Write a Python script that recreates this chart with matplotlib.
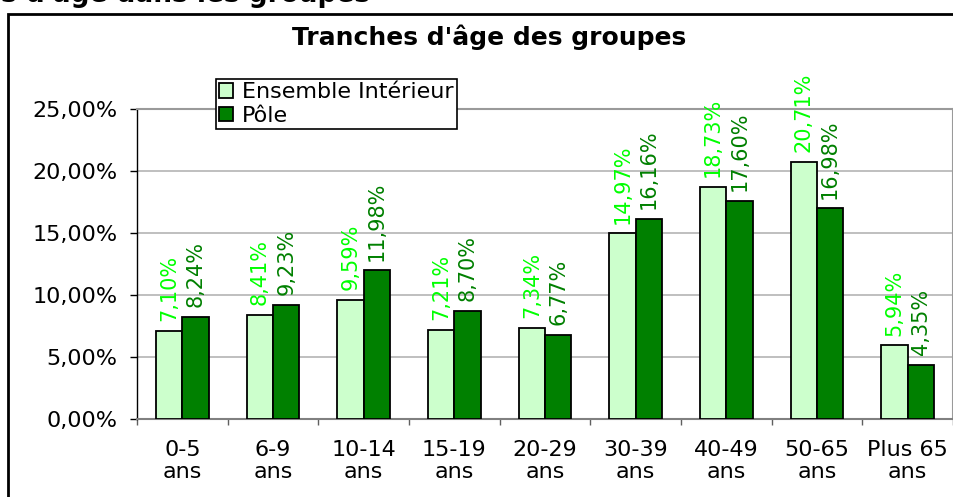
import matplotlib.pyplot as plt
from matplotlib.patches import Rectangle
import numpy as np

categories = ['0-5\nans', '6-9\nans', '10-14\nans', '15-19\nans', '20-29\nans',
              '30-39\nans', '40-49\nans', '50-65\nans', 'Plus 65\nans']
ensemble = [7.10, 8.41, 9.59, 7.21, 7.34, 14.97, 18.73, 20.71, 5.94]
pole = [8.24, 9.23, 11.98, 8.70, 6.77, 16.16, 17.60, 16.98, 4.35]
series_names = ['Ensemble Intérieur', 'Pôle']

light = '#CCFFCC'
dark = '#008000'
light_txt = '#00FF00'

plt.rcParams['font.family'] = 'DejaVu Sans'

fig = plt.figure(figsize=(9.54, 4.97), dpi=100)
W, H = 954, 497

# outer frame of the chart (runs off the right and bottom edges)
fig.patches.append(Rectangle((8 / W, -0.1), 1.2, 1 - 14 / H + 0.1,
                             transform=fig.transFigure, fill=False,
                             edgecolor='black', linewidth=2))

# cut-off heading above the frame
fig.text(370 / W, 1 - 2 / H, "Tranches d'âge dans les groupes", ha='right',
         va='baseline', fontsize=19, fontweight='bold')

ax = fig.add_axes([137 / W, 1 - 419 / H, (953 - 137) / W, (419 - 109) / H])

x = np.arange(len(categories))
bw = 0.29
ax.bar(x - bw / 2, ensemble, bw, color=light, edgecolor='black',
       linewidth=1.3, label=series_names[0], zorder=3)
ax.bar(x + bw / 2, pole, bw, color=dark, edgecolor='black',
       linewidth=1.3, label=series_names[1], zorder=3)

# rotated value labels above each bar
for xi, v in zip(x, ensemble):
    ax.annotate(f'{v:.2f}%'.replace('.', ','), (xi - bw / 2, v),
                xytext=(0, 7), textcoords='offset points', rotation=90,
                ha='center', va='bottom', fontsize=15, color=light_txt,
                annotation_clip=False)
for xi, v in zip(x, pole):
    ax.annotate(f'{v:.2f}%'.replace('.', ','), (xi + bw / 2, v),
                xytext=(0, 7), textcoords='offset points', rotation=90,
                ha='center', va='bottom', fontsize=15, color=dark,
                annotation_clip=False)

ax.set_xlim(-0.5, len(categories) - 0.5)
ax.set_ylim(0, 25)
ax.set_yticks(np.arange(0, 26, 5))
ax.set_yticklabels([f'{t:.2f}%'.replace('.', ',') for t in np.arange(0, 26, 5)])
ax.yaxis.grid(True, color='#B4B4B4', linewidth=1.2, zorder=0)

ax.set_xticks(x)
ax.set_xticklabels(categories, linespacing=1.15)
ax.set_xticks(np.arange(-0.5, len(categories)), minor=True)
ax.tick_params(axis='x', which='major', length=0, pad=15, labelsize=16)
ax.tick_params(axis='x', which='minor', length=4, width=1, color='#606060')
ax.tick_params(axis='y', length=5, width=1, pad=9, labelsize=16)

for side in ['top', 'right']:
    ax.spines[side].set_color('#9A9A9A')
    ax.spines[side].set_linewidth(1.5)
ax.spines['bottom'].set_color('#808080')
ax.spines['bottom'].set_linewidth(1.5)
ax.spines['left'].set_color('black')
ax.spines['left'].set_linewidth(1)

ax.set_title("Tranches d'âge des groupes", fontsize=18, fontweight='bold',
             x=(489 - 137) / (953 - 137), y=1 + (109 - 46) / (419 - 109),
             va='center')

leg = fig.legend(loc='upper left', bbox_to_anchor=(216 / W, 1 - 79 / H),
                 fontsize=16, frameon=True, fancybox=False, framealpha=1,
                 edgecolor='black', handlelength=0.6, handleheight=0.6,
                 handletextpad=0.4, borderpad=0.15, labelspacing=0.15,
                 borderaxespad=0)
leg.get_frame().set_linewidth(1.2)

fig.savefig('out.png', dpi=100)
